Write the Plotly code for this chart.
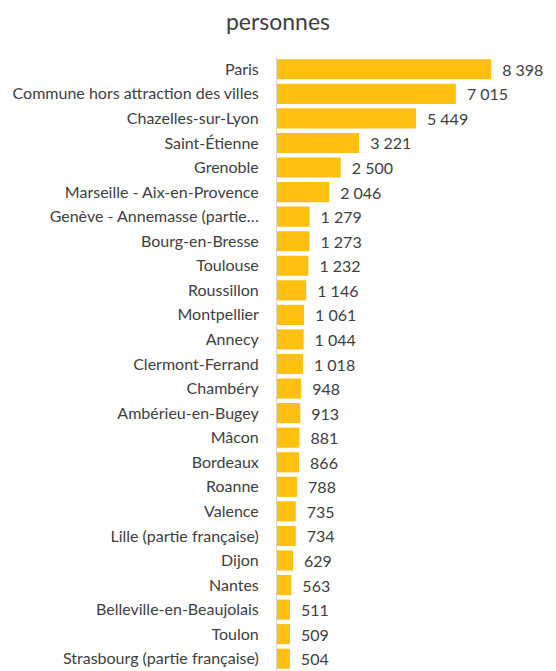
import plotly.graph_objects as go

categories = [
    "Paris", "Commune hors attraction des villes", "Chazelles-sur-Lyon", "Saint-Étienne",
    "Grenoble", "Marseille - Aix-en-Provence", "Genève - Annemasse (partie…", "Bourg-en-Bresse",
    "Toulouse", "Roussillon", "Montpellier", "Annecy", "Clermont-Ferrand", "Chambéry",
    "Ambérieu-en-Bugey", "Mâcon", "Bordeaux", "Roanne", "Valence", "Lille (partie française)",
    "Dijon", "Nantes", "Belleville-en-Beaujolais", "Toulon", "Strasbourg (partie française)",
]
values = [8398, 7015, 5449, 3221, 2500, 2046, 1279, 1273, 1232, 1146, 1061, 1044, 1018,
          948, 913, 881, 866, 788, 735, 734, 629, 563, 511, 509, 504]

labels = ["\u2002" + f"{v:,}".replace(",", " ") for v in values]

font_family = "Lato, Open Sans, sans-serif"
text_color = "#404040"

W, H = 540, 663

fig = go.Figure(go.Bar(
    x=values,
    y=categories,
    orientation="h",
    marker=dict(color="#FFC012", line=dict(width=0)),
    text=labels,
    textposition="outside",
    textfont=dict(family=font_family, size=16, color=text_color),
    cliponaxis=False,
    hoverinfo="skip",
))

fig.update_layout(
    width=W,
    height=H,
    margin=dict(l=269, r=16, t=49, b=0),
    paper_bgcolor="white",
    plot_bgcolor="white",
    bargap=0.18,
    showlegend=False,
    title=dict(
        text="personnes",
        x=270 / W,
        xref="container",
        xanchor="center",
        y=1 - 14 / H,
        yref="container",
        yanchor="middle",
        font=dict(family=font_family, size=23, color=text_color),
    ),
    font=dict(family=font_family, size=16, color=text_color),
)
fig.update_xaxes(range=[0, 10000], visible=False)
fig.update_yaxes(
    autorange="reversed",
    showline=True,
    linecolor="#d9d9d9",
    linewidth=1,
    showgrid=False,
    ticks="",
    ticklabelstandoff=14,
    tickfont=dict(family=font_family, size=16, color=text_color),
)

fig.write_html("out.html")
